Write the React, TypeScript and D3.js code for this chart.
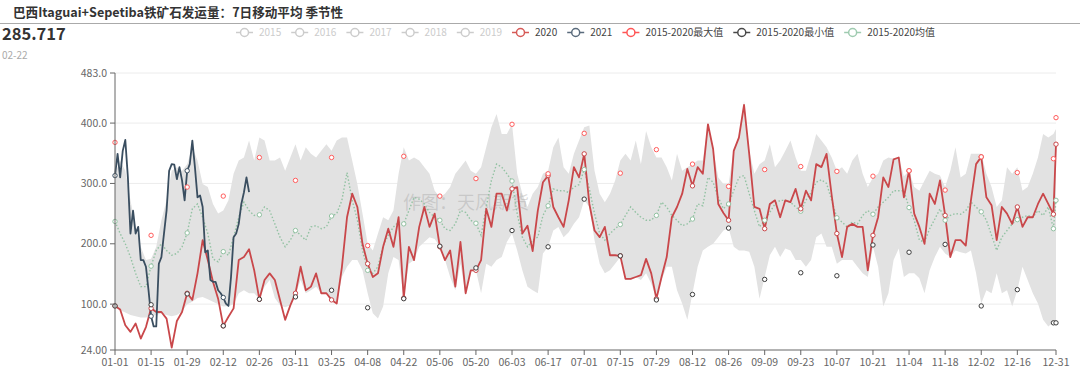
import React, { useMemo } from 'react';
import * as d3 from 'd3';

// ─── data ──────────────────────────────────────────────────────────────────

const TITLE = '巴西Itaguai+Sepetiba铁矿石发运量：7日移动平均 季节性';
const WATERMARK = '作图：天风期货';

// every 2nd day from 01-01 (day 0 … 364), last entry is 12-31 (day 365)
const S2020 = [
  97, 91, 65, 54, 68, 43, 62, 93, 87, 87,
  76, 28, 72, 87, 118, 107, 151, 206, 173, 137,
  109, 64, 79, 93, 173, 178, 191, 156, 108, 140,
  151, 140, 107, 74, 98, 118, 162, 123, 129, 151,
  118, 118, 107, 101, 161, 244, 283, 261, 200, 167,
  145, 151, 195, 225, 195, 244, 110, 195, 173, 228,
  261, 228, 250, 195, 173, 189, 129, 203, 118, 156,
  156, 173, 258, 228, 283, 283, 255, 291, 294, 217,
  230, 188, 255, 302, 313, 261, 244, 228, 272, 327,
  310, 349, 266, 222, 211, 228, 181, 181, 180, 142,
  142, 145, 148, 175, 151, 109, 145, 178, 244, 261,
  283, 324, 296, 327, 316, 398, 357, 266, 251, 239,
  354, 376, 430, 349, 261, 258, 225, 266, 272, 244,
  272, 269, 291, 258, 288, 272, 332, 327, 349, 280,
  217, 178, 228, 233, 228, 228, 156, 214, 244, 310,
  294, 340, 343, 277, 321, 250, 228, 200, 283, 266,
  305, 247, 178, 206, 206, 197, 272, 332, 344, 277,
  264, 206, 261, 250, 233, 261, 228, 244, 244, 266,
  283, 266, 249,
  365,
];

const MEAN = [
  237, 217, 200, 178, 151, 129, 129, 163, 189, 200,
  189, 181, 184, 195, 218, 258, 266, 244, 217, 175,
  170, 187, 181, 211, 244, 269, 255, 247, 248, 261,
  255, 233, 211, 195, 206, 222, 214, 206, 228, 230,
  225, 228, 246, 250, 272, 318, 272, 240, 189, 156,
  151, 162, 197, 214, 228, 236, 233, 255, 277, 274,
  266, 252, 244, 239, 225, 222, 233, 255, 252, 239,
  234, 214, 261, 305, 332, 327, 316, 304, 250, 211,
  195, 206, 211, 247, 263, 291, 288, 288, 285, 294,
  298, 323, 291, 250, 217, 206, 217, 225, 232, 247,
  261, 252, 244, 239, 239, 247, 269, 261, 247, 239,
  230, 233, 241, 266, 263, 310, 302, 277, 258, 266,
  288, 310, 313, 283, 255, 228, 239, 252, 266, 272,
  272, 269, 261, 254, 272, 285, 302, 306, 300, 272,
  243, 236, 228, 236, 233, 247, 255, 249, 261, 269,
  277, 288, 288, 288, 260, 239, 206, 203, 225, 241,
  258, 239, 247, 250, 249, 255, 269, 261, 253, 239,
  214, 189, 211, 222, 233, 240, 244, 247, 244, 255,
  247, 261, 225,
  272,
];

const BAND_HI = [
  316, 338, 321, 272, 228, 195, 173, 175, 195, 239,
  272, 321, 327, 321, 332, 360, 338, 299, 294, 266,
  250, 255, 272, 316, 338, 343, 371, 338, 376, 371,
  338, 338, 343, 321, 343, 365, 338, 360, 349, 343,
  354, 365, 354, 371, 376, 376, 338, 299, 250, 200,
  189, 217, 244, 239, 255, 316, 360, 338, 343, 338,
  327, 316, 288, 277, 283, 294, 316, 327, 338, 321,
  316, 327, 360, 393, 415, 382, 382, 398, 316, 283,
  261, 283, 294, 316, 321, 360, 376, 327, 316, 349,
  371, 393, 396, 321, 283, 269, 283, 305, 338, 349,
  338, 371, 332, 387, 360, 343, 343, 327, 305, 349,
  321, 327, 332, 338, 338, 399, 357, 310, 299, 299,
  357, 376, 437, 354, 316, 332, 338, 365, 327, 338,
  354, 371, 343, 321, 321, 349, 382, 371, 360, 343,
  321, 327, 316, 338, 349, 316, 294, 310, 316, 338,
  343, 341, 343, 312, 321, 294, 288, 305, 321, 316,
  313, 294, 321, 360, 310, 316, 349, 349, 349, 316,
  294, 261, 272, 327, 316, 327, 288, 294, 316, 343,
  382, 376, 382,
  390,
];

const BAND_LO = [
  96, 90, 86, 82, 80, 78, 78, 80, 82, 85,
  82, 80, 82, 88, 100, 104, 110, 112, 108, 104,
  100, 96, 97, 100, 118, 123, 118, 118, 108, 129,
  140, 110, 98, 95, 98, 116, 140, 118, 123, 129,
  118, 118, 107, 101, 145, 162, 173, 173, 156, 118,
  85, 76, 96, 151, 178, 173, 109, 167, 173, 195,
  203, 211, 208, 195, 173, 145, 123, 167, 115, 156,
  156, 118, 167, 162, 173, 178, 203, 217, 189, 156,
  129, 123, 118, 184, 195, 222, 228, 211, 219, 233,
  244, 272, 261, 206, 167, 151, 156, 167, 178, 140,
  140, 145, 140, 151, 134, 109, 140, 162, 162, 123,
  101, 74, 118, 162, 189, 195, 200, 211, 222, 226,
  195, 189, 189, 187, 162, 109, 145, 181, 195, 178,
  192, 189, 173, 173, 162, 173, 211, 217, 195, 195,
  167, 173, 173, 173, 162, 151, 145, 195, 162, 96,
  118, 173, 192, 145, 151, 151, 143, 118, 156, 178,
  195, 184, 178, 189, 186, 184, 189, 151, 101, 123,
  118, 151, 118, 123, 96, 123, 162, 140, 118, 101,
  74, 63, 70,
  70,
];

// daily from 01-01
const S2021 = [
  313, 349, 310, 354, 372, 310, 217, 255, 217, 228,
  173, 173, 162, 123, 80, 63, 63, 167, 178, 217,
  255, 321, 332, 331, 307, 327, 305, 272, 321, 332,
  371, 327, 277, 280, 261, 186, 189, 140, 137, 137,
  123, 118, 111, 101, 97, 145, 211, 217, 233, 266,
  285, 310, 285.717,
];

// symbols every 14 days plus 12-31
const MAX_MARKS = [368, 214, 294, 279, 343, 305, 343, 197, 345, 279, 308, 398, 316, 383, 317, 356, 332, 295, 323, 328, 320, 312, 321, 289, 344, 318, 341, 409];
const MIN_MARKS = [97, 99, 117, 64, 108, 112, 123, 94, 109, 196, 160, 222, 195, 274, 180, 107, 116, 226, 141, 152, 147, 198, 186, 199, 97, 124, 69, 69];

const Y_TICKS = [24, 100, 200, 300, 400, 483];
const Y_LABELS = ['24.00', '100.0', '200.0', '300.0', '400.0', '483.0'];

const LEGEND_NAMES = ['2015', '2016', '2017', '2018', '2019', '2020', '2021', '2015-2020最大值', '2015-2020最小值', '2015-2020均值'];
const LEGEND_COLORS = ['#cccccc', '#cccccc', '#cccccc', '#cccccc', '#cccccc', '#d65a57', '#5a6b7c', '#ff5555', '#484848', '#9fcbb0'];
const LEGEND_ON = [false, false, false, false, false, true, true, true, true, true];

// ─── style ─────────────────────────────────────────────────────────────────

const W = 1080;
const H = 373;
const M = { left: 115, right: 1056, top: 73, bottom: 350 };
const FONT = '"Noto Sans CJK SC", "Noto Sans", sans-serif';
const C2020 = '#c9474a';
const C2021 = '#3a4e60';
const CMAX = '#ff5c5c';
const CMIN = '#3c3c3c';
const CMEAN = '#93c2a3';
const BAND = '#e2e2e2';

const base = new Date(2020, 0, 1);
const fmt = d3.timeFormat('%m-%d');
const dayLabel = (d: number) => fmt(d3.timeDay.offset(base, d));
const stepDay = (i: number, n: number) => (i === n - 1 ? 365 : i * 2);
const valueAt = (arr: number[], day: number) => arr[day === 365 ? arr.length - 1 : day / 2];

function textWidth(s: string, font: string) {
  const ctx = document.createElement('canvas').getContext('2d');
  if (!ctx) return s.length * 6;
  ctx.font = font;
  return ctx.measureText(s).width;
}

export default function App() {
  const x = d3.scaleLinear().domain([0, 365]).range([M.left, M.right]);
  const y = d3.scaleLinear().domain([24, 483]).range([M.bottom, M.top]);

  const tickDays = [...d3.range(0, 351, 14), 365];
  const markDays = [...d3.range(0, 365, 14), 365];

  const n = S2020.length;
  const band = d3.area<number>()
    .x((_, i) => x(stepDay(i, n)))
    .y0((_, i) => y(BAND_LO[i]))
    .y1(d => y(d))(BAND_HI) ?? undefined;
  const stepLine = d3.line<number>()
    .x((_, i) => x(stepDay(i, n)))
    .y(d => y(d));
  const line2021 = d3.line<number>()
    .x((_, i) => x(i))
    .y(d => y(d))(S2021) ?? undefined;

  const legend = useMemo(() => {
    let cx = 236;
    return LEGEND_NAMES.map((name, i) => {
      const item = { name, x: cx, color: LEGEND_COLORS[i], on: LEGEND_ON[i] };
      cx += 23 + textWidth(name, `10px ${FONT}`) + 10;
      return item;
    });
  }, []);

  const lastIdx = S2021.length - 1;

  return (
    <div style={{ position: 'absolute', left: 0, top: 0 }}>
      <svg width={W} height={H} style={{ display: 'block', background: '#fff' }} fontFamily={FONT}>
        {/* header */}
        <text x={13} y={17} fontSize={12.6} fontWeight="bold" fill="#333">{TITLE}</text>
        <line x1={0} x2={W} y1={23.5} y2={23.5} stroke="#aaa" />
        <text x={2} y={40} fontSize={16.5} fontWeight="bold" fill="#333">{S2021[lastIdx].toFixed(3)}</text>
        <text x={2} y={59} fontSize={10} fill="#aaa">{dayLabel(lastIdx)}</text>

        {/* legend */}
        {legend.map(l => (
          <g key={l.name} transform={`translate(${l.x},32.5)`}>
            <line x1={0} x2={17} y1={0} y2={0} stroke={l.color} strokeWidth={1.5} />
            <circle cx={8.5} cy={0} r={4} fill="#fff" stroke={l.color} strokeWidth={1.5} />
            <text x={23} y={3.5} fontSize={10} fill={l.on ? '#444' : '#ccc'}>{l.name}</text>
          </g>
        ))}

        {/* grid */}
        {Y_TICKS.slice(1).map(t => (
          <line key={t} x1={M.left} x2={M.right} y1={y(t)} y2={y(t)} stroke="#ececec" />
        ))}

        {/* 2015-2020 range */}
        <path d={band} fill={BAND} />

        <text x={403} y={209} fontSize={18} fill="#999" fillOpacity={0.35}>{WATERMARK}</text>

        {/* mean */}
        <path d={stepLine(MEAN) ?? undefined} fill="none" stroke={CMEAN} strokeWidth={1.4} strokeDasharray="1.5 2" />
        {/* 2020 */}
        <path d={stepLine(S2020) ?? undefined} fill="none" stroke={C2020} strokeWidth={1.8} strokeLinejoin="round" />
        {/* 2021 */}
        <path d={line2021} fill="none" stroke={C2021} strokeWidth={1.8} strokeLinejoin="round" />

        {/* symbols */}
        {markDays.map((d, i) => (
          <g key={d}>
            <circle cx={x(d)} cy={y(valueAt(MEAN, d))} r={2.2} fill="#fff" stroke={CMEAN} />
            <circle cx={x(d)} cy={y(valueAt(S2020, d))} r={2.2} fill="#fff" stroke={C2020} />
            <circle cx={x(d)} cy={y(MAX_MARKS[i])} r={2.2} fill="#fff" stroke={CMAX} />
            <circle cx={x(d)} cy={y(MIN_MARKS[i])} r={2.2} fill="#fff" stroke={CMIN} />
            {d < S2021.length && (
              <circle cx={x(d)} cy={y(S2021[d])} r={2.2} fill="#fff" stroke={C2021} />
            )}
          </g>
        ))}

        {/* y axis */}
        <line x1={M.left} x2={M.left} y1={M.top} y2={M.bottom} stroke="#666" />
        {Y_TICKS.map((t, i) => (
          <g key={t} transform={`translate(0,${y(t)})`}>
            <line x1={M.left - 5} x2={M.left} stroke="#666" />
            <text x={M.left - 8} y={3.5} fontSize={10.5} fill="#666" textAnchor="end">{Y_LABELS[i]}</text>
          </g>
        ))}

        {/* x axis */}
        <line x1={M.left} x2={M.right} y1={M.bottom} y2={M.bottom} stroke="#666" />
        {tickDays.map(d => (
          <g key={d} transform={`translate(${x(d)},${M.bottom})`}>
            <line y1={0} y2={5} stroke="#666" />
            <text y={16} fontSize={10.5} fill="#666" textAnchor="middle">{dayLabel(d)}</text>
          </g>
        ))}
      </svg>
    </div>
  );
}
